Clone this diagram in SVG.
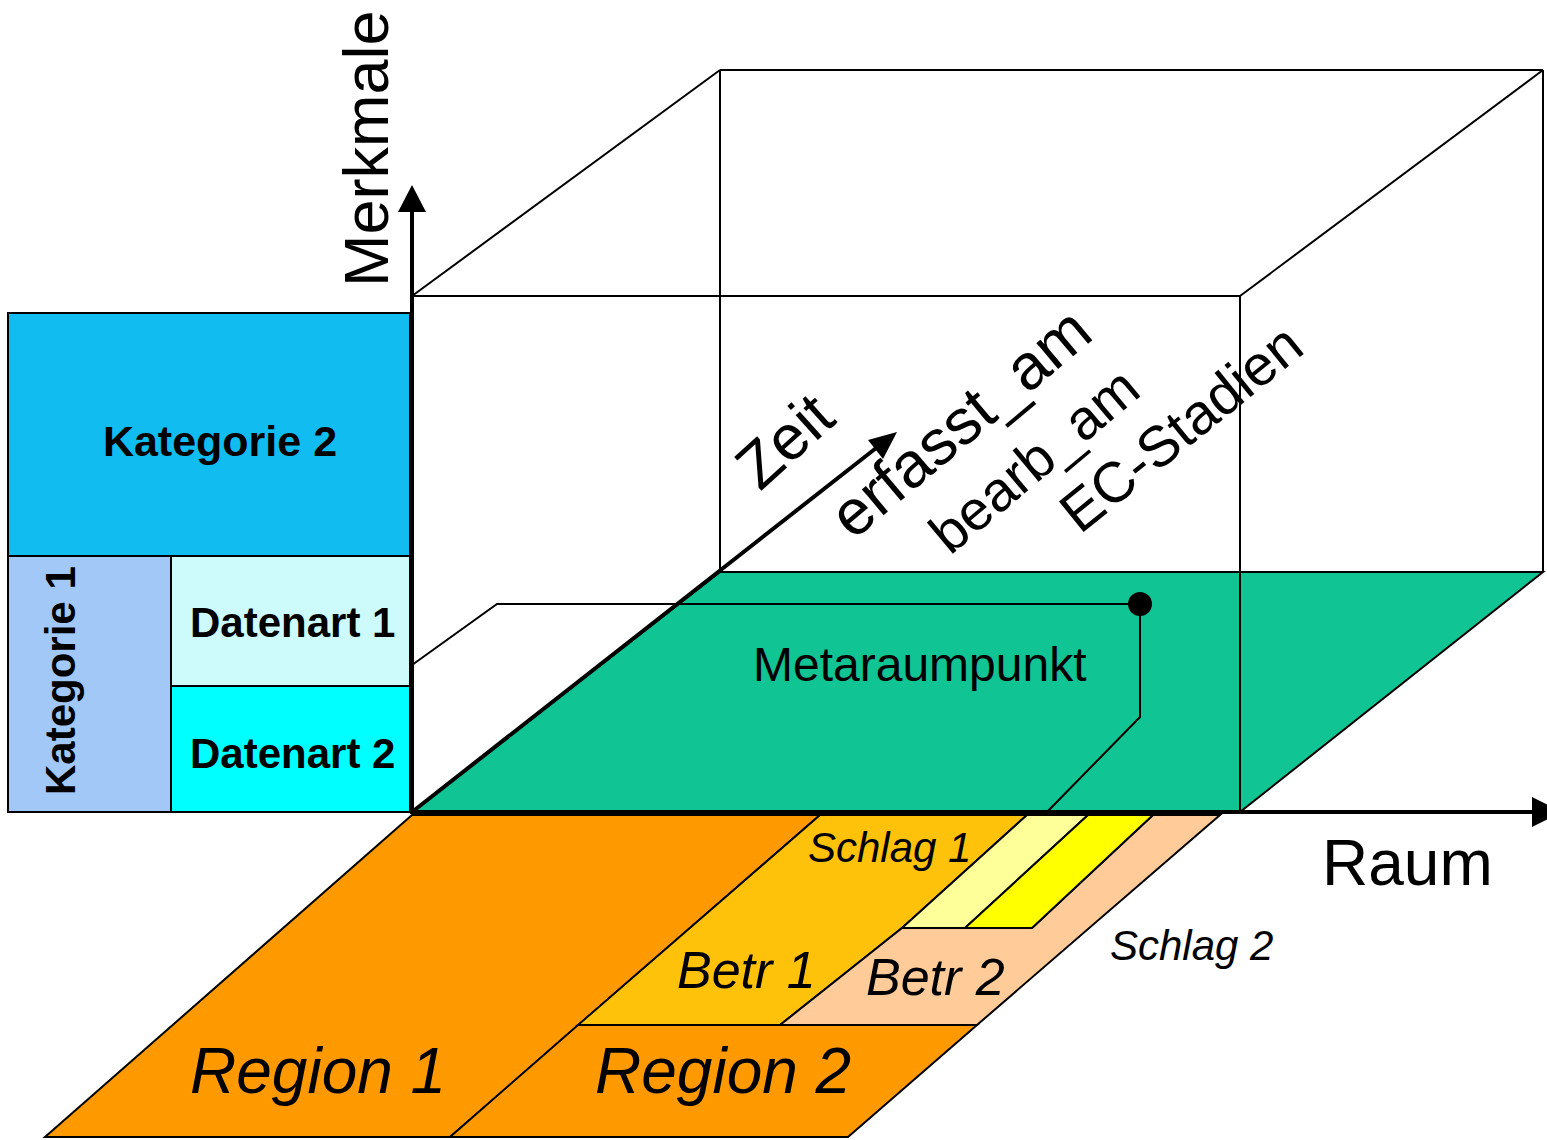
<svg xmlns="http://www.w3.org/2000/svg" width="1547" height="1140" viewBox="0 0 1547 1140">
  <style>
    text { font-family: "Liberation Sans", Arial, sans-serif; fill: #000; }
    .axis { stroke: #000; stroke-width: 4; fill: none; }
    .edge { stroke: #000; stroke-width: 2; fill: none; }
    .cell { stroke: #000; stroke-width: 2; }
    .lbl { font-size: 62px; }
    .bold { font-weight: bold; font-size: 42px; }
    .it { font-style: italic; }
  </style>

  <rect width="1547" height="1140" fill="#fff"/>

  <!-- floor of the cube (Merkmal x Raum plane) -->
  <g id="floor">
    <polygon points="412,812 720,572 1543,572 1240,812" fill="#10c494" stroke="#000" stroke-width="2"/>
    <text x="753" y="681" style="font-size:48px">Metaraumpunkt</text>
  </g>

  <!-- cube wireframe -->
  <g id="cube" class="edge">
    <line x1="412" y1="296" x2="1240" y2="296"/>
    <line x1="1240" y1="296" x2="1240" y2="812"/>
    <line x1="720" y1="70" x2="1543" y2="70"/>
    <line x1="720" y1="70" x2="720" y2="572"/>
    <line x1="1543" y1="70" x2="1543" y2="572"/>
    <line x1="412" y1="296" x2="720" y2="70"/>
    <line x1="1240" y1="296" x2="1543" y2="70"/>
  </g>

  <!-- category blocks on the Merkmale axis -->
  <g id="kategorie2">
    <rect class="cell" x="8" y="313" width="402" height="243" fill="#10bcf0"/>
    <text class="bold" x="220" y="456" text-anchor="middle" style="font-size:43px">Kategorie 2</text>
  </g>
  <g id="kategorie1">
    <rect class="cell" x="8" y="556" width="163" height="256" fill="#a2c8f8"/>
    <text class="bold" transform="translate(75,795) rotate(-90)">Kategorie 1</text>
  </g>
  <g id="datenart1">
    <rect class="cell" x="171" y="556" width="239" height="130" fill="#cdfbfb"/>
    <text class="bold" x="190" y="637">Datenart 1</text>
  </g>
  <g id="datenart2">
    <rect class="cell" x="171" y="686" width="239" height="126" fill="#00ffff"/>
    <text class="bold" x="190" y="768">Datenart 2</text>
  </g>

  <!-- spatial hierarchy below the Raum axis -->
  <g id="region1">
    <polygon class="cell" points="412,815 820,815 450,1137 45,1137" fill="#ff9900"/>
    <text class="it" x="190" y="1093" style="font-size:64px">Region 1</text>
  </g>
  <g id="region2">
    <polygon class="cell" points="578,1025 977,1025 848,1137 450,1137" fill="#ff9900"/>
    <text class="it" x="595" y="1093" style="font-size:64px">Region 2</text>
  </g>
  <g id="betr1">
    <polygon class="cell" points="820,815 1027,815 902,928 780,1025 578,1025" fill="#ffc20a"/>
    <text class="it" x="677" y="988" style="font-size:52px">Betr 1</text>
  </g>
  <g id="betr2">
    <polygon class="cell" points="902,928 1032,928 1153,815 1220,815 977,1025 780,1025" fill="#ffcc99"/>
    <text class="it" x="866" y="995" style="font-size:52px">Betr 2</text>
  </g>
  <g id="schlag1">
    <polygon class="cell" points="1027,815 1088,815 965,928 902,928" fill="#ffff99"/>
    <text class="it" x="808" y="862" style="font-size:42px">Schlag 1</text>
  </g>
  <g id="schlag2">
    <polygon class="cell" points="1088,815 1153,815 1032,928 965,928" fill="#ffff00"/>
    <text class="it" x="1110" y="960" style="font-size:42px">Schlag 2</text>
  </g>

  <!-- time attributes along the Zeit axis -->
  <g id="zeit-labels" class="lbl">
    <text transform="translate(760,492) rotate(-42)" style="font-size:63px">Zeit</text>
    <text transform="translate(853,541) rotate(-40)" style="font-size:64px">erfasst_am</text>
    <text transform="translate(950,556) rotate(-40)" style="font-size:56px">bearb_am</text>
    <text transform="translate(1080,535) rotate(-39)" style="font-size:57px">EC-Stadien</text>
  </g>

  <!-- connectors: axes and the reference line of the meta-space point -->
  <g id="connectors">
    <path class="edge" d="M412,665 L497,604 L1140,604 L1140,717 L1047,812"/>
    <circle cx="1140" cy="604" r="12" fill="#000"/>
    <line class="axis" x1="412" y1="812" x2="412" y2="200"/>
    <polygon points="398,212 412,185 426,212" fill="#000"/>
    <line class="axis" x1="410" y1="812" x2="1535" y2="812"/>
    <polygon points="1532,797 1562,812 1532,827" fill="#000"/>
    <line class="axis" x1="412" y1="812" x2="880" y2="445"/>
    <polygon points="897,432 868,440 883,459" fill="#000"/>
  </g>

  <g id="axis-labels" class="lbl">
    <text transform="translate(388,287) rotate(-90)" style="font-size:63px">Merkmale</text>
    <text x="1322" y="885" style="font-size:64px">Raum</text>
  </g>
</svg>
